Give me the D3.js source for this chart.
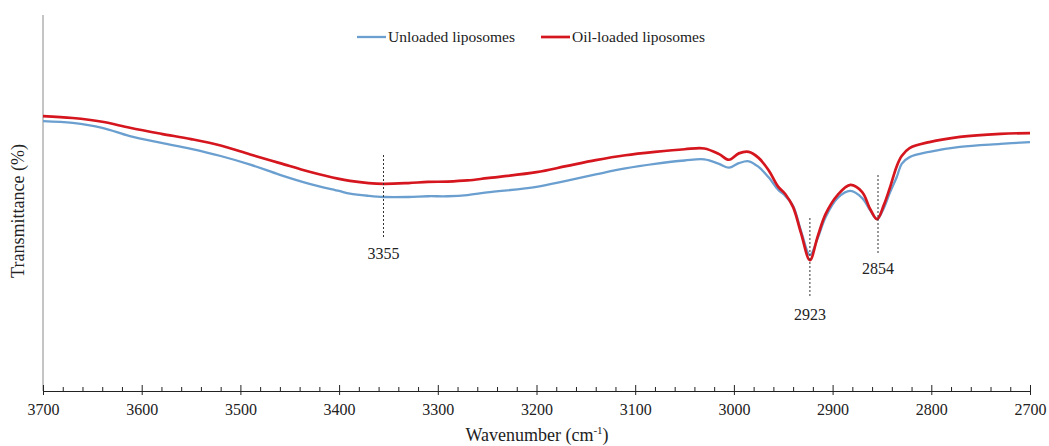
<!DOCTYPE html>
<html>
<head>
<meta charset="utf-8">
<script src="https://cdn.jsdelivr.net/npm/d3@7"></script>
<style>
  html, body { margin: 0; padding: 0; background: #fff; }
  svg { display: block; font-family: "Liberation Serif", "Times New Roman", serif; }
</style>
</head>
<body>
<svg id="chart" width="1049" height="446"></svg>
<script>
// FTIR spectra, 3700–2700 cm-1
const wavenumbers = [3700, 3670, 3640, 3612, 3580, 3550, 3520, 3490, 3460, 3430, 3400, 3389, 3370, 3355, 3330, 3310, 3290, 3270, 3250, 3200, 3170, 3140, 3110, 3080, 3050, 3030, 3015, 3005, 2995, 2985, 2975, 2965, 2955, 2948, 2940, 2932, 2923, 2915, 2907, 2895, 2882, 2870, 2862, 2855, 2848, 2842, 2835, 2830, 2822, 2802, 2771, 2730, 2700];

const unloaded = [71.8, 71.3, 70.0, 67.8, 66.0, 64.4, 62.5, 60.2, 57.5, 55.1, 53.2, 52.5, 51.9, 51.6, 51.6, 51.8, 51.8, 52.1, 52.8, 54.3, 55.9, 57.6, 59.2, 60.4, 61.3, 61.6, 60.4, 59.4, 60.6, 61.1, 59.6, 56.9, 53.5, 51.9, 49.2, 42.6, 36.2, 40.7, 46.3, 51.3, 53.2, 51.3, 48.1, 45.7, 48.7, 52.7, 56.9, 60.4, 62.2, 63.6, 64.9, 65.7, 66.2];

const oilLoaded = [73.1, 72.6, 71.6, 70.0, 68.4, 67.0, 65.3, 62.9, 60.6, 58.3, 56.4, 55.9, 55.3, 55.1, 55.3, 55.6, 55.7, 56.0, 56.6, 58.2, 59.8, 61.4, 62.7, 63.6, 64.3, 64.5, 63.0, 61.5, 63.2, 63.6, 62.0, 58.8, 54.3, 52.4, 48.9, 42.0, 34.8, 41.2, 47.1, 52.1, 54.8, 52.9, 48.4, 45.7, 49.5, 54.0, 59.8, 62.5, 64.6, 66.2, 67.6, 68.4, 68.6];

const seriesNames = ["Unloaded liposomes", "Oil-loaded liposomes"];
const majorTicks = [3700, 3600, 3500, 3400, 3300, 3200, 3100, 3000, 2900, 2800, 2700];
const minorTicks = d3.range(3680, 2700, -20).filter(v => v % 100 !== 0);
const peakLabels = [3355, 2923, 2854];

const svg = d3.select("#chart");
const plot = { left: 43, right: 1030, top: 15, bottom: 391 };

const x = d3.scaleLinear().domain([3700, 2700]).range([plot.left, plot.right]);
const y = d3.scaleLinear().domain([0, 100]).range([plot.bottom, plot.top]);

// y axis: plain line, no ticks
svg.append("line")
  .attr("x1", plot.left).attr("x2", plot.left)
  .attr("y1", plot.top).attr("y2", plot.bottom)
  .attr("stroke", "#8a8a8a").attr("stroke-width", 1);

// x axis, minor ticks
svg.append("g")
  .attr("transform", `translate(0,${plot.bottom})`)
  .call(d3.axisBottom(x).tickValues(minorTicks).tickSize(-4).tickFormat(""))
  .call(g => g.select(".domain").remove())
  .call(g => g.selectAll(".tick line").attr("stroke", "#222"));

// x axis, major ticks and labels
const xAxis = svg.append("g")
  .attr("transform", `translate(0,${plot.bottom})`)
  .call(d3.axisBottom(x).tickValues(majorTicks).tickSize(4).tickPadding(0).tickFormat(d3.format("d")).tickSizeOuter(0));
xAxis.select(".domain").attr("stroke", "#222");
xAxis.selectAll(".tick line").attr("y1", -6).attr("y2", 4).attr("stroke", "#222");
xAxis.selectAll(".tick text")
  .attr("y", 24).attr("dy", null)
  .attr("font-family", "'Liberation Serif', 'Times New Roman', serif")
  .attr("font-size", 16).attr("fill", "#222");

// axis titles
const xt = svg.append("text")
  .attr("x", 537).attr("y", 441)
  .attr("text-anchor", "middle")
  .attr("font-size", 18).attr("fill", "#222");
xt.append("tspan").text("Wavenumber (cm");
xt.append("tspan").attr("font-size", 11).attr("dy", -7).text("-1");
xt.append("tspan").attr("dy", 7).text(")");

svg.append("text")
  .attr("transform", "translate(24,211) rotate(-90)")
  .attr("text-anchor", "middle")
  .attr("font-size", 18).attr("fill", "#222")
  .text("Transmittance (%)");

// spectra
const rows = wavenumbers.map((w, i) => ({ w, a: unloaded[i], b: oilLoaded[i] }));
const curve = d3.curveCatmullRom.alpha(0.5);
const lineA = d3.line().x(d => x(d.w)).y(d => y(d.a)).curve(curve);
const lineB = d3.line().x(d => x(d.w)).y(d => y(d.b)).curve(curve);
const colors = ["#6a9fcf", "#d5161e"];

svg.append("path").datum(rows).attr("d", lineA)
  .attr("fill", "none").attr("stroke", colors[0]).attr("stroke-width", 2.3);
svg.append("path").datum(rows).attr("d", lineB)
  .attr("fill", "none").attr("stroke", colors[1]).attr("stroke-width", 2.7);

// peak markers
const peakLayout = {
  3355: { y1: 155, y2: 237, ty: 259 },
  2923: { y1: 218, y2: 298, ty: 320 },
  2854: { y1: 175, y2: 253, ty: 274 }
};
peakLabels.forEach(p => {
  const L = peakLayout[p];
  svg.append("line")
    .attr("x1", x(p)).attr("x2", x(p))
    .attr("y1", L.y1).attr("y2", L.y2)
    .attr("stroke", "#333").attr("stroke-width", 1)
    .attr("stroke-dasharray", "2,2");
  svg.append("text")
    .attr("x", x(p)).attr("y", L.ty)
    .attr("text-anchor", "middle")
    .attr("font-size", 16).attr("fill", "#222")
    .text(p);
});

// legend
const legendItems = [
  { name: seriesNames[0], color: colors[0], x0: 357, w: 2.3 },
  { name: seriesNames[1], color: colors[1], x0: 541, w: 2.7 }
];
legendItems.forEach(it => {
  svg.append("line")
    .attr("x1", it.x0).attr("x2", it.x0 + 29)
    .attr("y1", 37).attr("y2", 37)
    .attr("stroke", it.color).attr("stroke-width", it.w);
  svg.append("text")
    .attr("x", it.x0 + 31).attr("y", 42)
    .attr("font-size", 15.5).attr("fill", "#222")
    .text(it.name);
});
</script>
</body>
</html>
